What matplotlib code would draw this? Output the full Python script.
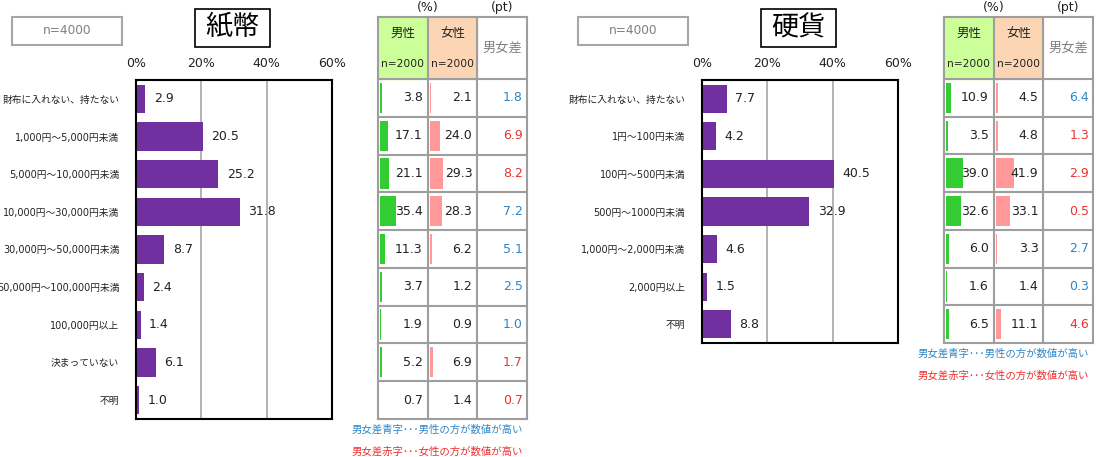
import matplotlib
matplotlib.use('Agg')
import matplotlib.pyplot as plt
from matplotlib.patches import Rectangle

plt.rcParams['font.family'] = ['DejaVu Sans', 'Noto Sans CJK JP']

# ---------------- data ----------------
paper_categories = ['財布に入れない、持たない', '1,000円～5,000円未満', '5,000円～10,000円未満',
                    '10,000円～30,000円未満', '30,000円～50,000円未満', '50,000円～100,000円未満',
                    '100,000円以上', '決まっていない', '不明']
paper_total = [2.9, 20.5, 25.2, 31.8, 8.7, 2.4, 1.4, 6.1, 1.0]
paper_male = [3.8, 17.1, 21.1, 35.4, 11.3, 3.7, 1.9, 5.2, 0.7]
paper_female = [2.1, 24.0, 29.3, 28.3, 6.2, 1.2, 0.9, 6.9, 1.4]
paper_diff = [1.8, 6.9, 8.2, 7.2, 5.1, 2.5, 1.0, 1.7, 0.7]

coin_categories = ['財布に入れない、持たない', '1円～100円未満', '100円～500円未満', '500円～1000円未満',
                   '1,000円～2,000円未満', '2,000円以上', '不明']
coin_total = [7.7, 4.2, 40.5, 32.9, 4.6, 1.5, 8.8]
coin_male = [10.9, 3.5, 39.0, 32.6, 6.0, 1.6, 6.5]
coin_female = [4.5, 4.8, 41.9, 33.1, 3.3, 1.4, 11.1]
coin_diff = [6.4, 1.3, 2.9, 0.5, 2.7, 0.3, 4.6]

x_ticks = [0, 20, 40, 60]
x_tick_labels = ['0%', '20%', '40%', '60%']

PURPLE = '#7030A0'
GREEN_BAR = '#33CC33'
PINK_BAR = '#FF9999'
GREEN_HDR = '#CCFF99'
PEACH_HDR = '#FCD5B4'
BLUE = '#2E86C8'
RED = '#F03030'
GRID = '#9E9E9E'

W, H = 1099, 457
fig = plt.figure(figsize=(W / 100, H / 100), dpi=100)


def fx(x):
    return x / W


def fy(y):
    return 1 - y / H


def ax_px(x0, y0, x1, y1):
    return fig.add_axes([fx(x0), fy(y1), (x1 - x0) / W, (y1 - y0) / H])


def box(x0, y0, x1, y1, ec, lw):
    fig.patches.append(Rectangle((fx(x0), fy(y1)), (x1 - x0) / W, (y1 - y0) / H,
                                 transform=fig.transFigure, fill=False, ec=ec, lw=lw))


def draw_chart(ax, cats, vals):
    y = list(range(len(cats)))
    ax.barh(y, vals, height=0.75, color=PURPLE, zorder=2)
    ax.set_xlim(0, 60)
    ax.set_ylim(len(cats) - 0.5, -0.5)
    ax.set_xticks(x_ticks)
    ax.set_xticklabels(x_tick_labels)
    ax.xaxis.tick_top()
    ax.tick_params(axis='x', length=0, pad=7, labelsize=9, labelcolor='#222222')
    ax.set_yticks(y)
    ax.set_yticklabels(cats)
    ax.tick_params(axis='y', length=0, pad=12, labelsize=7, labelcolor='#222222')
    ax.grid(axis='x', color='#A6A6A6', lw=1.2)
    ax.set_axisbelow(True)
    for s in ax.spines.values():
        s.set_color('black')
        s.set_linewidth(1.5)
    for yi, v in zip(y, vals):
        ax.annotate(f'{v:.1f}', (v, yi), xytext=(6, 0), textcoords='offset points',
                    va='center', ha='left', fontsize=9, color='#222222')


def draw_table(ax, male, female, diff):
    n = len(male)
    hh = (79 - 17) / 37.7
    ax.set_xlim(0, 3)
    ax.set_ylim(n, -hh)
    ax.axis('off')
    ax.add_patch(Rectangle((0, -hh), 1, hh, color=GREEN_HDR, zorder=0))
    ax.add_patch(Rectangle((1, -hh), 1, hh, color=PEACH_HDR, zorder=0))
    rows = list(range(n))
    centers = [r + 0.5 for r in rows]
    ax.barh(centers, [m * 0.009 for m in male], left=0.04, height=0.8, color=GREEN_BAR, zorder=1)
    ax.barh(centers, [f * 0.009 for f in female], left=1.04, height=0.8, color=PINK_BAR, zorder=1)
    for xv in [0, 1, 2, 3]:
        ax.plot([xv, xv], [-hh, n], color=GRID, lw=1.5, clip_on=False, zorder=3)
    for yv in [-hh] + list(range(n + 1)):
        ax.plot([0, 3], [yv, yv], color=GRID, lw=1.5, clip_on=False, zorder=3)
    # header
    ax.text(0.5, -hh * 0.73, '男性', ha='center', va='center', fontsize=9, color='#222222')
    ax.text(0.5, -hh * 0.25, 'n=2000', ha='center', va='center', fontsize=7.7, color='#222222')
    ax.text(1.5, -hh * 0.73, '女性', ha='center', va='center', fontsize=9, color='#222222')
    ax.text(1.5, -hh * 0.25, 'n=2000', ha='center', va='center', fontsize=7.7, color='#222222')
    ax.text(2.5, -hh * 0.5, '男女差', ha='center', va='center', fontsize=9.5, color='#808080')
    for c, m, f, d in zip(centers, male, female, diff):
        ax.text(0.9, c, f'{m:.1f}', ha='right', va='center', fontsize=9, color='#222222', zorder=4)
        ax.text(1.9, c, f'{f:.1f}', ha='right', va='center', fontsize=9, color='#222222', zorder=4)
        ax.text(2.92, c, f'{d:.1f}', ha='right', va='center', fontsize=9,
                color=BLUE if m > f else RED, zorder=4)


def panel(x_chart, x_table, y_bottom, title, cats, total, male, female, diff, note_x, note_y):
    ax = ax_px(x_chart, 80, x_chart + 196, y_bottom)
    draw_chart(ax, cats, total)
    tx = ax_px(x_table, 17, x_table + 149, y_bottom)
    draw_table(tx, male, female, diff)
    fig.text(fx(x_table + 50), fy(8), '(%)', ha='center', va='center', fontsize=9, color='#222222')
    fig.text(fx(x_table + 124), fy(8), '(pt)', ha='center', va='center', fontsize=9, color='#222222')
    # n box
    nb = x_chart - 124
    box(nb, 17, nb + 110, 45, '#A6A6A6', 1.5)
    fig.text(fx(nb + 55), fy(31), 'n=4000', ha='center', va='center', fontsize=8.7, color='#7F7F7F')
    # title box
    tb = x_chart + 59
    box(tb, 9, tb + 75, 47, 'black', 1.2)
    fig.text(fx(tb + 37.5), fy(28), title, ha='center', va='center', fontsize=19.5, color='black')
    fig.text(fx(note_x), fy(note_y), '男女差青字･･･男性の方が数値が高い', ha='left', va='center',
             fontsize=7.5, color=BLUE)
    fig.text(fx(note_x), fy(note_y + 22), '男女差赤字･･･女性の方が数値が高い', ha='left', va='center',
             fontsize=7.5, color=RED)


panel(136, 378, 419, '紙幣', paper_categories, paper_total, paper_male, paper_female, paper_diff, 352, 430)
panel(702, 944, 343, '硬貨', coin_categories, coin_total, coin_male, coin_female, coin_diff, 918, 354)

fig.savefig('out.png', dpi=100)
